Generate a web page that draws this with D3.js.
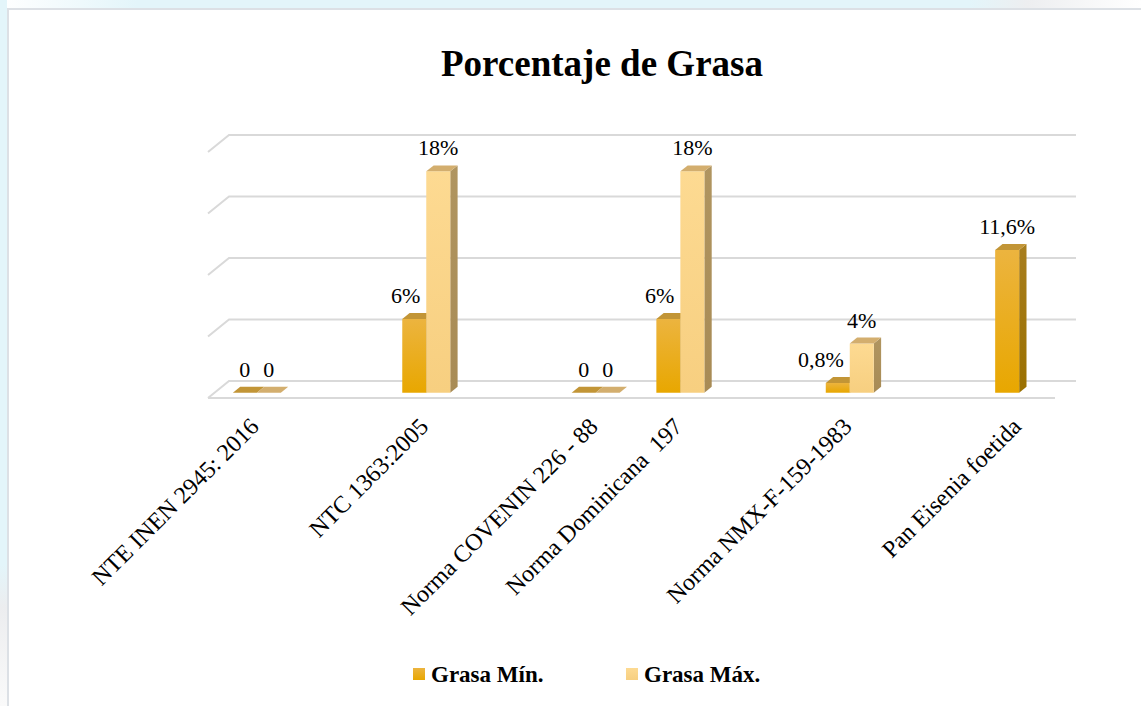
<!DOCTYPE html>
<html>
<head>
<meta charset="utf-8">
<script src="https://cdn.jsdelivr.net/npm/d3@7/dist/d3.min.js"></script>
<style>
    html, body { margin: 0; padding: 0; background: #fff; }
    svg { display: block; }
    text { font-family: "Liberation Serif", "Times New Roman", serif; fill: #000; }
</style>
</head>
<body>
<div id="chart"></div>
<script>

// data (blank slots are empty categories in the sheet)
const categories = ["NTE INEN 2945: 2016", "", "NTC 1363:2005", "", "Norma COVENIN 226 - 88",
    "Norma Dominicana  197", "", "Norma NMX-F-159-1983", "", "Pan Eisenia foetida"]
const grasaMin = [0, null, 6, null, 0, 6, null, 0.8, null, 11.6]
const grasaMax = [0, null, 18, null, 0, 18, null, 4, null, null]
const seriesNames = ["Grasa Mín.", "Grasa Máx."]
const yTicks = [0, 5, 10, 15, 20]
const title = "Porcentaje de Grasa"

const width = 1141
const height = 706

// oblique 3d: full depth of the floor goes this far right / up
const depth = { dx: 21, dy: 17, barFront: 0.31, barBack: 0.66 }
const barW = 24

const svg = d3.select("#chart").append("svg")
    .attr("width", width)
    .attr("height", height)

const defs = svg.append("defs")

const grad = (id, stops, x2 = 0, y2 = 1) => {
    const g = defs.append("linearGradient").attr("id", id)
        .attr("x1", 0).attr("y1", 0).attr("x2", x2).attr("y2", y2)
    stops.forEach(([o, c]) => g.append("stop").attr("offset", o).attr("stop-color", c))
}
grad("minFront", [[0, "#ECB43F"], [1, "#E8A700"]])
grad("minSide", [[0, "#A87E1E"], [1, "#9A7000"]])
grad("maxFront", [[0, "#FDDA92"], [1, "#F7CF80"]])
grad("maxSide", [[0, "#B09560"], [1, "#A88B55"]])
grad("topStrip", [[0, "#FFFFFF"], [0.12, "#E3F5FA"], [0.85, "#E3F5FA"], [0.9, "#EDEEF0"], [1, "#FFFFFF"]], 1, 0)
grad("leftStrip", [[0, "#E3F5FA"], [0.8, "#E3F5FA"], [0.86, "#ECEDEF"], [1, "#FAFAFA"]])

const colors = [
    { front: "url(#minFront)", side: "url(#minSide)", top: "#C29536" },
    { front: "url(#maxFront)", side: "url(#maxSide)", top: "#D3AE6E" }
]

// page behind the chart box
svg.append("rect").attr("x", 0).attr("y", 0).attr("width", width).attr("height", 8).attr("fill", "url(#topStrip)")
svg.append("rect").attr("x", 0).attr("y", 0).attr("width", 7).attr("height", height).attr("fill", "url(#leftStrip)")
svg.append("path")
    .attr("d", `M8,${height} V9 H${width}`)
    .attr("fill", "none")
    .attr("stroke", "#DCE0E5")
    .attr("stroke-width", 2)

// scales on the front plane of the floor
const x = d3.scaleBand()
    .domain(d3.range(categories.length))
    .range([208, 1055])

const y = d3.scaleLinear()
    .domain([0, 20])
    .range([398, 152])

const proj = (px, v, z) => [px + z * depth.dx, y(v) - z * depth.dy]

// back wall gridlines + left edge
const grid = svg.append("g").attr("fill", "none").attr("stroke", "#D9D9D9").attr("stroke-width", 2)
yTicks.forEach(t => {
    const a = proj(x.range()[0], t, 0)
    const b = proj(x.range()[0], t, 1)
    const c = proj(x.range()[1], t, 1)
    grid.append("path").attr("d", `M${a}L${b}L${c}`)
})
grid.append("line")
    .attr("x1", x.range()[0]).attr("x2", x.range()[1])
    .attr("y1", y(0)).attr("y2", y(0))

// bars
const bars = []
categories.forEach((c, i) => {
    [grasaMin[i], grasaMax[i]].forEach((v, s) => {
        if (v === null) return
        bars.push({ i, s, v, x0: x(i) + x.bandwidth() / 2 - barW + s * barW })
    })
})

const poly = pts => "M" + pts.map(p => p.join(",")).join("L") + "Z"
const zf = depth.barFront, zb = depth.barBack

const barG = svg.append("g")
bars.forEach(d => {
    const g = barG.append("g")
    const x1 = d.x0 + barW
    if (d.v > 0) {
        g.append("path")
            .attr("d", poly([proj(x1, 0, zf), proj(x1, 0, zb), proj(x1, d.v, zb), proj(x1, d.v, zf)]))
            .attr("fill", colors[d.s].side)
        g.append("path")
            .attr("d", poly([proj(d.x0, 0, zf), proj(x1, 0, zf), proj(x1, d.v, zf), proj(d.x0, d.v, zf)]))
            .attr("fill", colors[d.s].front)
    }
    g.append("path")
        .attr("d", poly([proj(d.x0, d.v, zf), proj(x1, d.v, zf), proj(x1, d.v, zb), proj(d.x0, d.v, zb)]))
        .attr("fill", colors[d.s].top)
})

// data labels, centred on the front face
const fmt = v => v === 0 ? "0" : d3.format(".1~f")(v).replace(".", ",") + "%"
const labelG = svg.append("g").attr("font-size", 22).attr("text-anchor", "middle")
bars.forEach(d => {
    const [cx] = proj(d.x0 + barW / 2, d.v, zf)
    const [, ty] = proj(d.x0, d.v, zb)
    const t = labelG.append("text")
        .attr("x", cx)
        .attr("y", ty - 10)
        .text(fmt(d.v))
    // keep the min label off a taller neighbour bar
    const other = d.s === 0 ? grasaMax[d.i] : null
    if (other !== null && other > d.v && y(other) < ty - 10) {
        const w = t.node().getComputedTextLength()
        const [edge] = proj(d.x0 + barW, 0, zf)
        const right = Math.min(cx + w / 2, edge - 6)
        t.attr("x", right - w / 2)
    }
})

// category axis
const xAxis = svg.append("g")
    .attr("transform", `translate(0,${y(0)})`)
    .call(d3.axisBottom(x).tickSize(0).tickFormat(i => categories[i]))
xAxis.select(".domain").remove()
xAxis.selectAll("text")
    .attr("font-family", "Liberation Serif")
    .attr("font-size", 24)
    .attr("fill", "#000")
    .attr("text-anchor", "end")
    .attr("style", "white-space: pre")
    .attr("x", 0).attr("y", 0).attr("dy", 0)
    .attr("transform", "translate(10,30) rotate(-45)")

// title
svg.append("text")
    .attr("x", 602)
    .attr("y", 76)
    .attr("text-anchor", "middle")
    .attr("font-size", 37)
    .attr("font-weight", "bold")
    .text(title)

// legend
const legendFills = ["url(#minFront)", "url(#maxFront)"]
const legend = svg.append("g")
    .selectAll("g")
    .data(seriesNames)
    .join("g")
    .attr("transform", (d, i) => `translate(${413 + i * 213},668)`)
legend.append("rect")
    .attr("width", 12).attr("height", 12)
    .attr("fill", (d, i) => legendFills[i])
legend.append("text")
    .attr("x", 18)
    .attr("y", 14)
    .attr("font-size", 23)
    .attr("font-weight", "bold")
    .text(d => d)

</script>
</body>
</html>
